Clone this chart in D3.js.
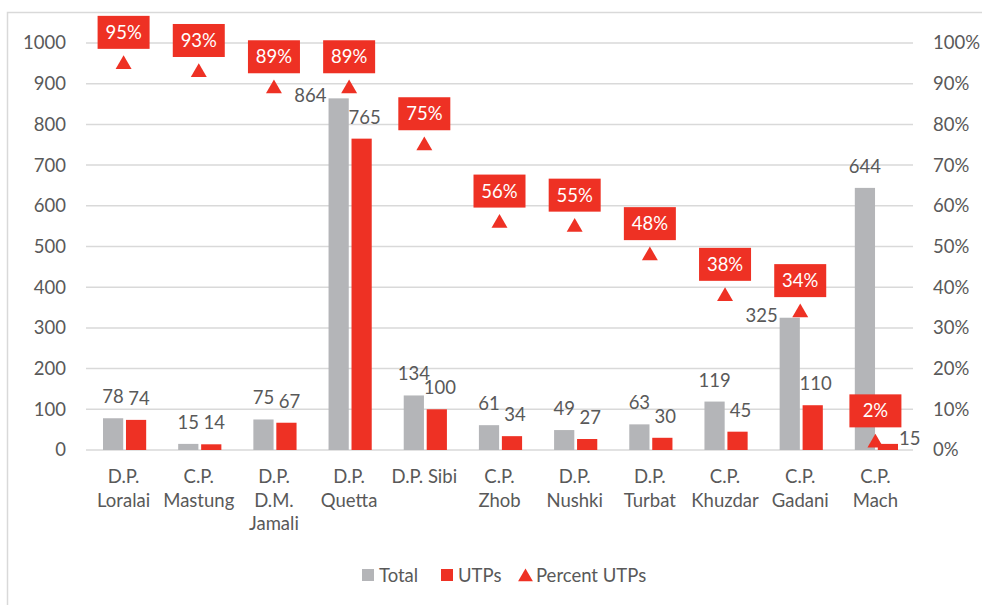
<!DOCTYPE html>
<html><head><meta charset="utf-8">
<script src="https://cdn.jsdelivr.net/npm/d3@7"></script>
<style>body{margin:0;background:#fff}svg{display:block;font-family:Lato,"Liberation Sans",sans-serif}</style>
</head><body><svg id="c" width="982" height="605"></svg>
<script>
const categories = ["D.P. Loralai","C.P. Mastung","D.P. D.M. Jamali","D.P. Quetta","D.P. Sibi","C.P. Zhob","D.P. Nushki","D.P. Turbat","C.P. Khuzdar","C.P. Gadani","C.P. Mach"];
const totals = [78,15,75,864,134,61,49,63,119,325,644];
const utps = [74,14,67,765,100,34,27,30,45,110,15];
const percents = [0.95,0.93,0.89,0.89,0.75,0.56,0.55,0.48,0.38,0.34,0.02];
const leftTicks = [0,100,200,300,400,500,600,700,800,900,1000];
const rightTicks = [0,0.1,0.2,0.3,0.4,0.5,0.6,0.7,0.8,0.9,1.0];
const seriesNames = ["Total","UTPs","Percent UTPs"];

const GREY="#b4b5b8", RED="#ee3124", TXT="#595959", GRID="#d9d9d9";
const svg = d3.select("#c");
const L=86,R=913,T=43,B=450;
const x = d3.scaleBand().domain(categories).range([L,R]).padding(0);
const x1 = d3.scaleBand().domain(["t","u"]).range([17, x.bandwidth()-15]).paddingInner(0.12);
const y = d3.scaleLinear().domain([0,1000]).range([B,T]);
const y2 = d3.scaleLinear().domain([0,1]).range([B,T]);

// chart border
svg.append("path").attr("d","M7.5,605 V12.5 H982").attr("fill","none").attr("stroke",GRID).attr("stroke-width",1.5);

// gridlines
svg.append("g").selectAll("line").data(leftTicks).join("line")
  .attr("x1",L).attr("x2",R).attr("y1",d=>y(d)).attr("y2",d=>y(d))
  .attr("stroke",GRID).attr("stroke-width",1.5);

// axes
const fs=18.5;
const ly = d3.axisLeft(y).tickValues(leftTicks).tickSize(0).tickPadding(0).tickFormat(d3.format("d"));
const gl = svg.append("g").attr("transform","translate(66,0)").call(ly);
const ry = d3.axisRight(y2).tickValues(rightTicks).tickSize(0).tickPadding(0).tickFormat(d3.format(".0%"));
const gr = svg.append("g").attr("transform","translate(933,0)").call(ry);
[gl,gr].forEach(g=>{g.select(".domain").remove();g.selectAll("text").attr("fill",TXT).style("font-size",fs+"px").style("font-family","Lato,'Liberation Sans',sans-serif");});

// bars
const idx = d3.range(categories.length);
svg.append("g").selectAll("rect").data(idx).join("rect")
  .attr("x",i=>x(categories[i])+x1("t")).attr("width",x1.bandwidth())
  .attr("y",i=>y(totals[i])).attr("height",i=>B-y(totals[i])).attr("fill",GREY);
svg.append("g").selectAll("rect").data(idx).join("rect")
  .attr("x",i=>x(categories[i])+x1("u")).attr("width",x1.bandwidth())
  .attr("y",i=>y(utps[i])).attr("height",i=>B-y(utps[i])).attr("fill",RED);

// bar labels
const totalPlace = {3:"left",9:"left"};
const utpPlace = {10:"right"};
function barLabel(i, v, key, place){
  const bx = x(categories[i])+x1(key), bw=x1.bandwidth(), top=y(v);
  let tx, ty, anchor;
  if(place==="left"){tx=bx-2;ty=top+4;anchor="end";}
  else if(place==="right"){tx=bx+bw+1;ty=top+1;anchor="start";}
  else {tx=bx+bw/2 + (key==="u"?3:0);ty=top-15;anchor="middle";}
  svg.append("text").attr("x",tx).attr("y",ty).attr("text-anchor",anchor)
    .attr("fill",TXT).style("font-size",fs+"px").text(v);
}
idx.forEach(i=>{barLabel(i,totals[i],"t",totalPlace[i]);barLabel(i,utps[i],"u",utpPlace[i]);});

// triangles
const tri = d3.symbol().type(d3.symbolTriangle).size(110);
svg.append("g").selectAll("path").data(idx).join("path")
  .attr("d",tri).attr("fill",RED)
  .attr("transform",i=>`translate(${x(categories[i])+x.bandwidth()/2},${y2(percents[i])+1})`);

// percent boxes
const pg = svg.append("g").selectAll("g").data(idx).join("g")
  .attr("transform",i=>`translate(${x(categories[i])+x.bandwidth()/2},${y2(percents[i])-31})`);
pg.append("rect").attr("x",-26).attr("y",-16.5).attr("width",52).attr("height",33).attr("fill",RED);
pg.append("text").attr("text-anchor","middle").attr("y",6.5).attr("fill","#fff")
  .style("font-size",fs+"px").text(i=>d3.format(".0%")(percents[i]));

// x labels with wrapping
const xg = svg.append("g");
categories.forEach(c=>{
  const words=c.split(" "); const lines=[]; let cur="";
  const t = xg.append("text").style("font-size",fs+"px").attr("visibility","hidden");
  words.forEach(w=>{
    const test = cur?cur+" "+w:w;
    t.text(test);
    if(cur && t.node().getComputedTextLength()>71){lines.push(cur);cur=w;} else cur=test;
  });
  lines.push(cur); t.remove();
  const tx = xg.append("text").attr("text-anchor","middle").attr("fill",TXT).style("font-size",fs+"px");
  lines.forEach((ln,k)=>tx.append("tspan").attr("x",x(c)+x.bandwidth()/2).attr("y",483+k*23.5).text(ln));
});

// legend
const lg = svg.append("g");
const items=[{n:seriesNames[0],c:GREY,s:"sq",x:362},{n:seriesNames[1],c:RED,s:"sq",x:441},{n:seriesNames[2],c:RED,s:"tri",x:519}];
items.forEach(it=>{
  if(it.s==="sq") lg.append("rect").attr("x",it.x).attr("y",569).attr("width",12).attr("height",12).attr("fill",it.c);
  else lg.append("path").attr("d",d3.symbol().type(d3.symbolTriangle).size(95)()).attr("fill",it.c).attr("transform",`translate(${it.x+6.5},577)`);
  lg.append("text").attr("x",it.x+17).attr("y",582).attr("fill",TXT).style("font-size",fs+"px").text(it.n);
});
</script></body></html>
